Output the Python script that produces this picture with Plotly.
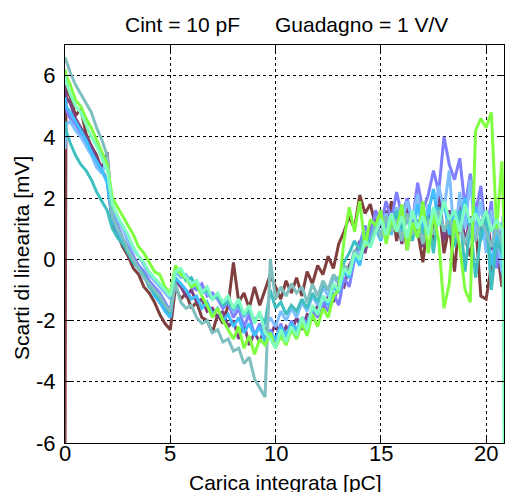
import plotly.graph_objects as go

# Shared sample positions (pC)
X = [0.0, 0.05, 0.25, 0.5, 0.75, 1.0, 1.25, 1.5, 1.75, 2.0,
     2.25, 2.5, 2.75, 3.0, 3.25, 3.5, 3.75, 4.0, 4.25, 4.5,
     4.75, 5.0, 5.25, 5.5, 5.75, 6.0, 6.25, 6.5, 6.75, 7.0,
     7.25, 7.5, 7.75, 8.0, 8.25, 8.5, 8.75, 9.0, 9.25, 9.5,
     9.75, 10.0, 10.25, 10.5, 10.75, 11.0, 11.25, 11.5, 11.75, 12.0,
     12.25, 12.5, 12.75, 13.0, 13.25, 13.5, 13.75, 14.0, 14.25, 14.5,
     14.75, 15.0, 15.25, 15.5, 15.75, 16.0, 16.25, 16.5, 16.75, 17.0,
     17.25, 17.5, 17.75, 18.0, 18.25, 18.5, 18.75, 19.0, 19.25, 19.5,
     19.75, 20.0, 20.25, 20.5, 20.75, 20.8, 20.85]

brown = [-6.0, 5.6, 5.3, 4.7, 4.9, 4.1, 3.7, 3.4, 2.9, 2.6,
         1.2, 0.8, 0.4, 0.1, -0.3, -0.5, -0.9, -1.1, -1.4, -1.8,
         -2.1, -2.3, -0.9, -1.3, -1.1, -1.6, -1.4, -1.9, -2.0, -2.4,
         -1.8, -2.1, -1.5, -0.1, -1.4, -1.1, -1.6, -0.9, -1.5, -1.0,
         -0.5, -0.9, -1.3, -0.7, -1.1, -0.6, -1.2, -0.4, -0.8, -0.2,
         -0.5, 0.1, -0.3, 0.5, 0.9, 1.4, 1.0, 2.1, 1.5, 1.8,
         1.1, 1.6, 0.7, 1.9, 0.6, 1.5, 0.3, 1.3, 0.9, -0.1,
         1.4, 0.5, 1.8, 0.2, 1.1, -0.4, 1.5, 0.7, 0.1, 1.2,
         -1.2, -1.3, -0.2, 0.5, -0.9, 0.1, -0.5]

purple = [5.7, 5.3, 5.1, 4.6, 4.3, 4.0, 3.7, 3.3, 3.0, 3.5,
          1.4, 1.0, 0.6, 0.3, 0.0, -0.3, -0.5, -0.9, -1.0, -1.4,
          -1.6, -1.9, -0.7, -0.9, -1.2, -1.0, -1.4, -1.3, -1.7, -1.6,
          -1.9, -1.7, -2.2, -2.0, -2.6, -2.1, -2.8, -2.4, -2.7, -2.2,
          -2.5, -2.1, -2.6, -2.2, -2.4, -1.9, -2.3, -1.8, -1.9, -1.5,
          -1.7, -1.2, -1.4, -0.8, -0.9, -0.2, 0.1, 0.6, 0.2, 1.0,
          1.3, 0.7, 1.6, 0.9, 1.4, 0.5, 1.7, 0.8, 1.2, 0.4,
          1.5, 1.0, 2.3, 0.6, 1.6, 0.9, 1.9, 0.5, 1.4, 0.8,
          0.9, 1.6, 0.3, 1.1, -0.6, 0.4, 0.2]

periwinkle = [5.1, 4.9, 4.6, 4.4, 4.1, 3.8, 3.5, 3.1, 2.9, 2.6,
              1.5, 1.1, 0.7, 0.4, 0.1, -0.2, -0.4, -0.7, -0.9, -1.1,
              -1.4, -1.7, -0.3, -0.5, -0.6, -0.9, -1.0, -0.8, -1.2, -1.1,
              -1.3, -1.6, -1.4, -1.9, -1.6, -2.2, -1.8, -2.5, -2.1, -2.6,
              -2.3, -2.7, -2.1, -2.6, -2.0, -2.4, -1.9, -2.1, -1.6, -1.9,
              -1.4, -1.7, -1.1, -1.5, -0.6, -0.9, 0.0, 0.5, 1.1, 0.7,
              1.6, 1.1, 1.9, 1.3, 2.2, 1.4, 2.0, 1.2, 2.5, 1.6,
              2.1, 2.9, 2.2, 4.0, 3.1, 2.6, 3.3, 1.7, 2.8, 1.5,
              2.4, 0.8, 1.9, -0.3, 1.2, 0.5, 0.3]

lightblue = [3.6, 4.4, 4.5, 4.2, 4.0, 3.7, 3.4, 3.0, 2.8, 3.3,
             1.7, 1.3, 1.0, 0.6, 0.3, 0.1, -0.2, -0.5, -0.7, -0.9,
             -1.1, -1.3, -0.4, -0.6, -0.5, -0.8, -0.7, -1.0, -1.1, -1.3,
             -1.2, -1.5, -1.3, -1.7, -1.5, -1.9, -1.6, -2.0, -1.8, -2.2,
             -1.9, -2.2, -1.7, -2.0, -1.6, -1.9, -1.4, -1.7, -1.2, -1.5,
             -0.9, -1.2, -0.6, -0.8, -0.2, -0.4, 0.3, 0.1, 0.8, 0.6,
             1.2, 0.8, 1.5, 1.0, 1.7, 1.2, 1.9, 1.3, 2.1, 1.0,
             1.8, 1.2, 2.4, 1.6, 2.9, 0.5, 2.2, 1.0, 2.6, 0.7,
             1.9, 0.2, 1.6, 0.9, -0.4, 1.4, 1.0]

skyblue = [5.3, 5.0, 4.8, 4.5, 4.2, 3.9, 3.5, 3.2, 2.9, 2.5,
           1.3, 0.9, 0.6, 0.2, -0.1, -0.3, -0.6, -0.8, -1.2, -1.4,
           -1.7, -1.9, -0.6, -0.8, -1.0, -1.3, -1.2, -1.6, -1.4, -1.8,
           -1.6, -2.0, -1.8, -2.2, -1.9, -2.4, -2.1, -2.5, -2.2, -2.7,
           -2.4, -2.6, -2.2, -2.5, -2.1, -2.3, -1.9, -2.2, -1.6, -1.8,
           -1.2, -1.5, -0.9, -1.1, -0.4, -0.6, 0.1, -0.2, 0.7, 0.4,
           1.0, 0.6, 1.3, 0.8, 1.6, 0.9, 1.4, 0.7, 1.8, 0.9,
           1.5, 2.3, 1.1, 1.9, 0.8, 1.6, 1.2, 2.0, 0.9, 1.7,
           0.6, 1.3, -0.2, 0.8, 0.3, -0.5, -0.3]

teal = [4.5, 4.2, 3.8, 3.4, 3.1, 2.9, 2.6, 2.2, 1.9, 1.6,
        1.0, 0.7, 0.5, 0.2, -0.1, -0.3, -0.5, -0.9, -1.1, -1.3,
        -1.5, -1.8, -0.3, -0.4, -0.7, -0.6, -0.9, -1.1, -1.0, -1.3,
        -1.2, -1.5, -1.4, -1.6, -1.5, -1.8, -1.7, -2.0, -1.8, -2.1,
        -1.0, -1.6, -1.4, -1.8, -1.5, -1.7, -1.3, -1.6, -1.1, -1.4,
        -0.8, -1.0, -0.5, -0.7, -0.1, 0.2, 0.6, 0.3, 0.9, 0.5,
        1.2, 0.7, 1.4, 0.9, 1.6, 1.0, 1.5, 0.6, 1.3, 0.8,
        1.4, 0.2, 1.7, 0.9, 1.3, 0.4, 1.6, -0.4, 1.2, -0.6,
        0.8, 1.5, -1.0, 0.6, 0.2, 0.9, 0.7]

greyteal = [6.6, 6.5, 6.1, 5.7, 5.4, 5.1, 4.8, 4.3, 3.9, 3.4,
            1.4, 1.0, 0.7, 0.3, 0.0, -0.3, -0.6, -0.8, -1.0, -1.2,
            -1.5, -1.7, -0.8, -1.4, -1.6, -1.5, -1.9, -2.1, -2.0, -2.4,
            -2.3, -2.7, -2.6, -3.0, -2.9, -3.4, -3.2, -3.9, -4.2, -4.5,
            0.0, -1.3, -0.9, -1.2, -0.8, -1.1, -0.9, -1.4, -0.8, -1.2,
            -0.7, -1.0, -0.5, -0.8, -0.2, -0.4, 0.3, 0.0, 0.7, 0.4,
            1.1, 0.7, 1.4, 0.9, 1.3, 0.6, 1.5, 0.8, 1.2, 0.5,
            1.3, 0.8, 1.6, 0.9, 1.4, 0.7, 1.2, 0.5, 1.1, 0.6,
            1.3, 0.9, 0.4, 1.1, 0.5, 0.8, 0.7]

green = [6.2, 6.0, 5.7, 5.2, 5.0, 4.6, 4.3, 3.9, 3.5, 3.1,
         2.0, 1.7, 1.4, 1.1, 0.8, 0.4, 0.2, -0.1, -0.4, -0.5,
         -0.9, -1.1, -0.2, -0.5, -0.6, -0.9, -0.8, -1.2, -1.5, -1.9,
         -1.6, -2.0, -2.3, -2.6, -2.2, -2.9, -2.5, -3.1, -2.6, -2.8,
         -2.4, -2.9, -2.5, -2.8, -2.3, -2.6, -2.1, -2.5, -1.8, -2.2,
         -1.6, -1.9, -1.2, -1.0, 0.6, 1.7, 0.9, 1.9, 0.4, 1.3,
         1.1, 1.6, 0.5, 1.3, 0.9, 1.8, 0.3, 1.2, 0.7, 1.9,
         0.2, 1.5, 0.6, -1.6, -0.8, 1.3, 0.4, -1.0, -1.4, 4.2,
         4.6, 4.3, 4.8, 1.0, 3.2, 1.5, 1.0]

aquamarine = [6.0, 5.8, 5.4, 5.0, 4.8, 4.4, 4.0, 3.7, 3.3, 2.9,
              1.8, 1.4, 1.1, 0.8, 0.4, 0.1, -0.1, -0.4, -0.6, -0.8,
              -1.0, -1.2, -0.4, -0.3, -0.6, -0.8, -0.7, -1.1, -0.9, -1.3,
              -1.1, -1.4, -1.2, -1.6, -1.3, -1.8, -1.5, -2.1, -1.7, -2.4,
              -2.6, -2.9, -2.3, -2.7, -2.2, -2.5, -1.9, -2.3, -1.5, -1.8,
              -1.2, -1.4, -0.8, -1.0, -0.3, -0.5, 0.2, 0.0, 0.6, 0.4,
              0.9, 1.3, 0.8, 1.5, 0.9, 1.4, 0.7, 1.6, 1.0, 1.4,
              0.8, 1.7, 1.1, 1.9, 1.3, 1.6, 0.9, 1.8, 1.2, 1.5,
              1.1, 1.6, 0.9, 1.3, 1.0, 0.8, -6.0]

SERIES = [
    ("brown", brown, "#7f3f3f"),
    ("purple", purple, "#7f3f7f"),
    ("periwinkle", periwinkle, "#7f7fff"),
    ("lightblue", lightblue, "#7fbfff"),
    ("skyblue", skyblue, "#3fbfff"),
    ("teal", teal, "#3fbfbf"),
    ("greyteal", greyteal, "#7fbfbf"),
    ("green", green, "#7fff3f"),
    ("aquamarine", aquamarine, "#7fffbf"),
]

X_TICKS = [0, 5, 10, 15, 20]
Y_TICKS = [-6, -4, -2, 0, 2, 4, 6]

TITLE = "Cint = 10 pF\u00a0\u00a0\u00a0\u00a0\u00a0\u00a0Guadagno = 1 V/V"
XLABEL = "Carica integrata [pC]"
YLABEL = "Scarti di linearita [mV]"

FONT = "Liberation Sans, Arial, Helvetica, sans-serif"

fig = go.Figure()
for name, ys, col in SERIES:
    fig.add_trace(go.Scatter(x=X, y=ys, mode="lines", name=name,
                             line=dict(color=col, width=3),
                             showlegend=False))

axis_common = dict(
    showline=True, linecolor="black", linewidth=1, mirror="ticks",
    ticks="inside", ticklen=6, tickcolor="black", tickwidth=1,
    showgrid=True, gridcolor="black", gridwidth=1, griddash="dot",
    zeroline=False, tickfont=dict(family=FONT, size=22, color="black"),
)

fig.update_xaxes(range=[0, 20.85], tickvals=X_TICKS, showticklabels=False,
                 **axis_common)
fig.update_yaxes(range=[-6, 7], tickvals=Y_TICKS, ticktext=[str(v) for v in Y_TICKS],
                 ticklabelstandoff=4, **axis_common)

annotations = [
    dict(text=TITLE, xref="paper", yref="paper", x=0.505, y=1.052,
         xanchor="center", yanchor="middle", showarrow=False,
         font=dict(family=FONT, size=21, color="black")),
    dict(text=XLABEL, xref="paper", yref="paper", x=0.503, y=-0.099,
         xanchor="center", yanchor="middle", showarrow=False,
         font=dict(family=FONT, size=21, color="black")),
    dict(text=YLABEL, xref="paper", yref="paper", x=-0.098, y=0.465,
         xanchor="center", yanchor="middle", showarrow=False, textangle=-90,
         font=dict(family=FONT, size=21, color="black")),
]
for v in X_TICKS:
    annotations.append(dict(text=str(v), xref="x", yref="paper", x=v, y=0,
                            xanchor="center", yanchor="top", yshift=4,
                            showarrow=False,
                            font=dict(family=FONT, size=22, color="black")))

fig.update_layout(
    width=505, height=492,
    margin=dict(l=65, r=1, t=45, b=49),
    paper_bgcolor="white", plot_bgcolor="white",
    font=dict(family=FONT, color="black"),
    annotations=annotations,
)

fig.write_html("out.html")
